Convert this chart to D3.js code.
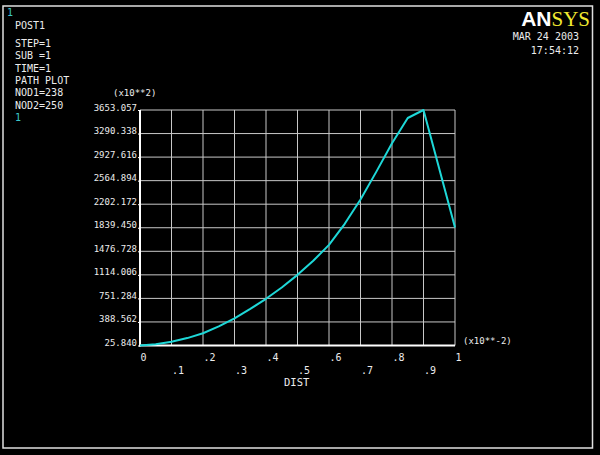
<!DOCTYPE html>
<html><head><meta charset="utf-8">
<script src="https://cdn.jsdelivr.net/npm/d3@7"></script>
<style>html,body{margin:0;padding:0;background:#000;}svg{display:block;}</style>
</head><body>
<script>
const distValues = [0, 0.05, 0.1, 0.15, 0.2, 0.25, 0.3, 0.35, 0.4, 0.45, 0.5, 0.55, 0.6, 0.65, 0.7, 0.75, 0.8, 0.85, 0.9, 1.0];
const stressValues = [25.84, 45, 84, 140, 214, 320, 445, 590, 745, 920, 1114, 1330, 1575, 1900, 2275, 2700, 3140, 3530, 3653.057, 1845];
const yTickLabels = ["25.840","388.562","751.284","1114.006","1476.728","1839.450","2202.172","2564.894","2927.616","3290.338","3653.057"];
const xTickValues = [0, 0.1, 0.2, 0.3, 0.4, 0.5, 0.6, 0.7, 0.8, 0.9, 1];
const xTickLabels = ["0", ".1", ".2", ".3", ".4", ".5", ".6", ".7", ".8", ".9", "1"];
const infoLines = ["STEP=1", "SUB =1", "TIME=1", "PATH PLOT", "NOD1=238", "NOD2=250"];

const W = 600, H = 455;
const font = "DejaVu Sans Mono, Liberation Mono, monospace";
const fs = 10, fsAx = 9;
const svg = d3.select("body").append("svg").attr("width", W).attr("height", H);
svg.append("rect").attr("width", W).attr("height", H).attr("fill", "#000");
svg.append("rect").attr("x", 3).attr("y", 6).attr("width", 589.5).attr("height", 442)
  .attr("fill", "none").attr("stroke", "#e0e0e0").attr("stroke-width", 1.5);

const yVals = yTickLabels.map(Number);
const x = d3.scaleLinear().domain([0, 1]).range([140, 455]);
const y = d3.scaleLinear().domain([yVals[0], yVals[yVals.length - 1]]).range([345.5, 110]);

// grid
const grid = svg.append("g").attr("stroke", "#c8c8c8").attr("stroke-width", 1);
xTickValues.forEach(v => grid.append("line").attr("x1", x(v)).attr("x2", x(v)).attr("y1", y.range()[1]).attr("y2", y.range()[0]));
yVals.forEach(v => grid.append("line").attr("x1", x(0)).attr("x2", x(1)).attr("y1", y(v)).attr("y2", y(v)));

// axes
const yAxis = d3.axisLeft(y).tickValues(yVals).tickSize(2).tickPadding(1).tickFormat((d, i) => yTickLabels[i]);
const gy = svg.append("g").attr("transform", `translate(${x(0)},0)`).call(yAxis)
  .attr("font-family", font).attr("font-size", fsAx);
gy.select(".domain").remove();
gy.selectAll(".tick line").attr("stroke", "#fff");
gy.selectAll(".tick text").attr("fill", "#ececec").attr("dy", "0").attr("x", -3)
  .attr("font-size", fsAx).attr("font-family", font);

const xAxis = d3.axisBottom(x).tickValues(xTickValues).tickSize(0).tickFormat((d, i) => xTickLabels[i]);
const gx = svg.append("g").attr("transform", `translate(0,${y.range()[0]})`).call(xAxis)
  .attr("font-family", font).attr("font-size", fs);
gx.select(".domain").remove();
gx.selectAll(".tick text").attr("fill", "#ececec")
  .attr("text-anchor", "start").attr("dy", "0").attr("x", 0)
  .attr("y", (d, i) => i % 2 === 0 ? 15.5 : 28);

svg.append("line").attr("x1", x(0)).attr("x2", x(0)).attr("y1", y.range()[1]).attr("y2", y.range()[0] + 1)
  .attr("stroke", "#fff").attr("stroke-width", 2);
svg.append("line").attr("x1", x(0) - 1).attr("x2", x(1)).attr("y1", y.range()[0]).attr("y2", y.range()[0])
  .attr("stroke", "#fff").attr("stroke-width", 2);

// curve
const pts = distValues.map((d, i) => [d, stressValues[i]]);
svg.append("path").datum(pts)
  .attr("d", d3.line().x(d => x(d[0])).y(d => y(d[1])))
  .attr("fill", "none").attr("stroke", "#1ed8d8").attr("stroke-width", 2).attr("stroke-linejoin", "round");

// texts
const txt = (t, xx, yy, col, anchor, size) => svg.append("text").attr("x", xx).attr("y", yy).text(t)
  .attr("fill", col || "#ececec").attr("font-family", font).attr("font-size", size || fs).attr("text-anchor", anchor || "start");
txt("1", 7, 16, "#3cc8c8");
txt("POST1", 15, 29);
infoLines.forEach((t, i) => txt(t, 15, 47 + i * 12.3));
txt("1", 15, 121, "#3cc8c8");
txt("(x10**2)", 113, 95.5, null, null, fsAx);
txt("(x10**-2)", 463, 343.5, null, null, fsAx);
txt("DIST", 284, 385.5, null, null, 10.5);
txt("MAR 24 2003", 579, 40, null, "end");
txt("17:54:12", 579, 53.5, null, "end");

const logo = svg.append("text").attr("x", 590).attr("y", 25.5).attr("text-anchor", "end").attr("font-size", 21);
logo.append("tspan").text("AN").attr("fill", "#fff").attr("font-family", "Liberation Sans, Arial, sans-serif").attr("font-weight", "bold");
logo.append("tspan").text("SYS").attr("fill", "#f0e830").attr("font-family", "Liberation Serif, serif");
</script>
</body></html>
